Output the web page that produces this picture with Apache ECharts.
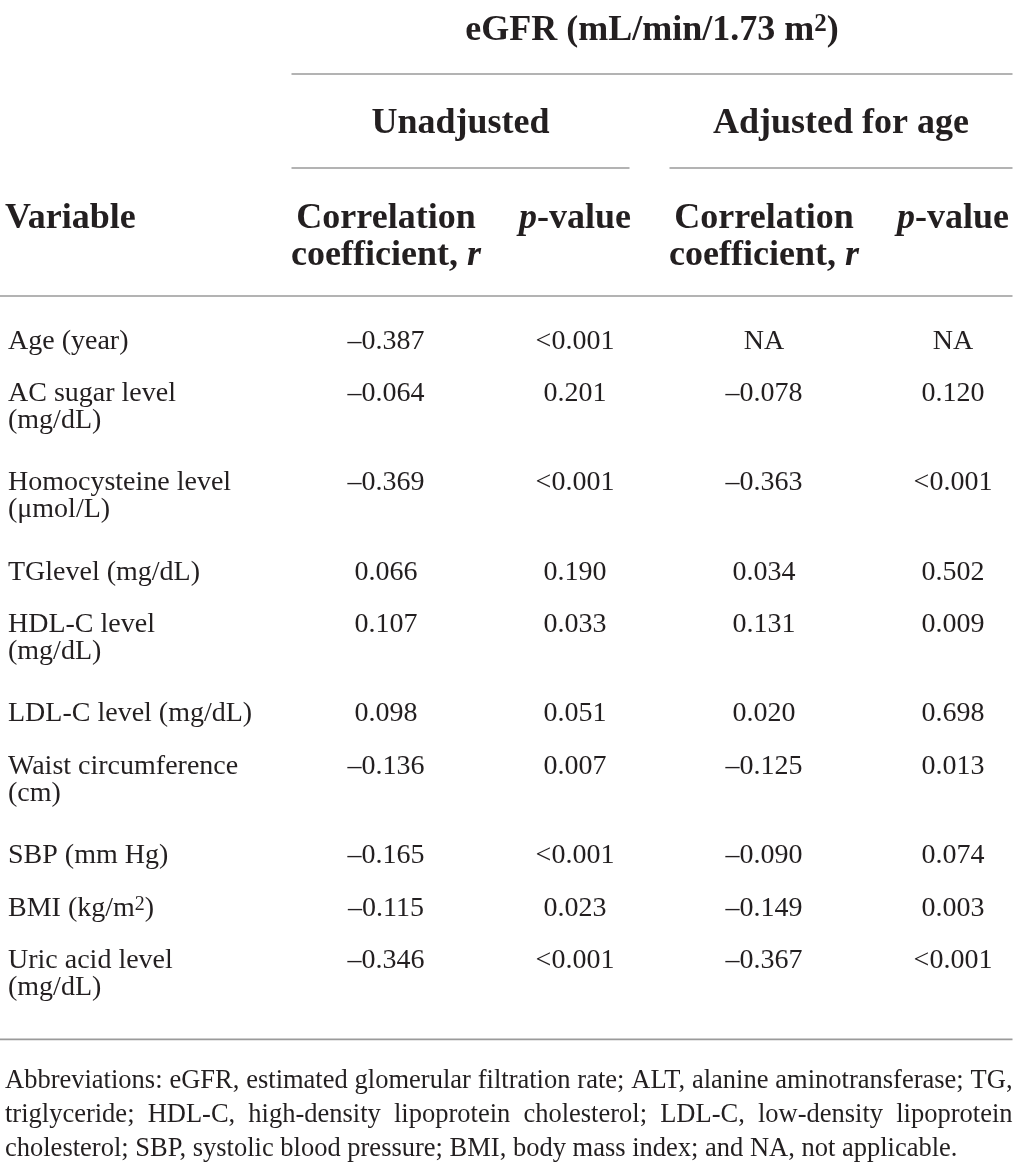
<!DOCTYPE html>
<html>
<head>
<meta charset="utf-8">
<script src="https://cdn.jsdelivr.net/npm/echarts@6/dist/echarts.min.js"></script>
<style>
html, body { margin: 0; padding: 0; background: #ffffff; }
#chart { width: 1017px; height: 1168px; }
</style>
</head>
<body>
<div id="chart"></div>
<script>
// ---------------- DATA ----------------
const titleText = 'eGFR (mL/min/1.73 m²)';
const groupHeaders = ['Unadjusted', 'Adjusted for age'];
const columnHeaders = ['Variable', 'Correlation\ncoefficient, _r_', '_p_-value', 'Correlation\ncoefficient, _r_', '_p_-value'];
const variables = [
  'Age (year)',
  'AC sugar level\n(mg/dL)',
  'Homocysteine level\n(μmol/L)',
  'TGlevel (mg/dL)',
  'HDL-C level\n(mg/dL)',
  'LDL-C level (mg/dL)',
  'Waist circumference\n(cm)',
  'SBP (mm Hg)',
  'BMI (kg/m²)',
  'Uric acid level\n(mg/dL)'
];
const unadjustedR = [-0.387, -0.064, -0.369, 0.066, 0.107, 0.098, -0.136, -0.165, -0.115, -0.346];
const unadjustedP = ['<0.001', '0.201', '<0.001', '0.190', '0.033', '0.051', '0.007', '<0.001', '0.023', '<0.001'];
const adjustedR = [null, -0.078, -0.363, 0.034, 0.131, 0.020, -0.125, -0.090, -0.149, -0.367];
const adjustedP = ['NA', '0.120', '<0.001', '0.502', '0.009', '0.698', '0.013', '0.074', '0.003', '<0.001'];
const footnoteLines = [
  'Abbreviations: eGFR, estimated glomerular filtration rate; ALT, alanine aminotransferase; TG,',
  'triglyceride; HDL-C, high-density lipoprotein cholesterol; LDL-C, low-density lipoprotein',
  'cholesterol; SBP, systolic blood pressure; BMI, body mass index; and NA, not applicable.'
];

// ---------------- STYLE / LAYOUT ----------------
const FONT = '"Liberation Serif", "DejaVu Serif", serif';
const INK = '#231f20';
const RULE_COLOR = '#9a9a9a';
const BODY_SIZE = 28, BODY_LH = 27;
const HEAD_SIZE = 36, HEAD_LH = 37;
const COL_PX = 189;                           // column pitch in px
const X_MIN = -197 / COL_PX, X_MAX = X_MIN + 1017 / COL_PX;
const Y_MIN = -6.5, Y_MAX = 15.75;           // row units, 0 = first body row
const EXTRA_LINE_UNITS = 0.7;                // extra row height per additional text line
const PX_PER_UNIT = 1168 / (Y_MAX - Y_MIN);

function fmtR(v) {
  if (v === null) return 'NA';
  return (v < 0 ? '\u2013' : '') + Math.abs(v).toFixed(3);
}
function toRich(s) {
  return s.replace(/_([^_]+)_/g, '{i|$1}').replace(/²/g, '{sup|2}');
}
function richFor(size, weight) {
  return {
    i: { fontFamily: FONT, fontSize: size, fontWeight: weight, fontStyle: 'italic', fill: INK },
    sup: { fontFamily: FONT, fontSize: Math.round(size * 0.7), fontWeight: weight, fill: INK, verticalAlign: 'top' }
  };
}

// row start positions (in row units) derived from the number of text lines
const rowStart = [];
let acc = 0;
variables.forEach(function (v) {
  rowStart.push(acc);
  acc += 1 + EXTRA_LINE_UNITS * (v.split('\n').length - 1);
});
const totalUnits = acc;

// header positions (row units)
const Y_TITLE = -5.91, Y_RULE1 = -5.09, Y_GROUP = -4.15, Y_RULE2 = -3.3, Y_COLHEAD = -2.33, Y_RULE3 = -0.86;
const Y_RULE_BOTTOM = totalUnits - 0.2;
const Y_FOOT = totalUnits + 0.6;
const FOOT_LH_UNITS = 34 / PX_PER_UNIT;

// body cells
const bodyCells = [];
const columns = [variables.map(String), unadjustedR.map(fmtR), unadjustedP, adjustedR.map(fmtR), adjustedP];
columns.forEach(function (col, c) {
  col.forEach(function (txt, r) {
    bodyCells.push({ value: [c, rowStart[r]], text: txt });
  });
});

// header cells
const headCells = columnHeaders.map(function (t, c) { return { value: [c, Y_COLHEAD], text: t }; });

// rules and spanning header texts: [fromCol, toCol, y]
const rules = [
  { value: [1, 4, Y_RULE1], kind: 'spanAll' },
  { value: [1, 2, Y_RULE2], kind: 'groupL' },
  { value: [3, 4, Y_RULE2], kind: 'groupR' },
  { value: [0, 4, Y_RULE3], kind: 'full' },
  { value: [0, 4, Y_RULE_BOTTOM], kind: 'full' }
];
const spanTexts = [
  { value: [1, 4, Y_TITLE], text: titleText, kind: 'spanAll' },
  { value: [1, 2, Y_GROUP], text: groupHeaders[0], kind: 'groupL' },
  { value: [3, 4, Y_GROUP], text: groupHeaders[1], kind: 'groupR' }
];
const footItems = footnoteLines.map(function (t, i) { return { value: [0, Y_FOOT + i * FOOT_LH_UNITS], text: t }; });

const GROUP_GAP = 40, RIGHT_INSET = 35, LEFT_PAD = 8;

function spanExtent(api, c0, c1, kind, y) {
  const bw = api.size([1, 0])[0];
  const p0 = api.coord([c0, y]);
  const p1 = api.coord([c1, y]);
  let x0, x1;
  if (kind === 'full') {
    x0 = p0[0] - bw - LEFT_PAD;
    x1 = p1[0] + bw / 2 - RIGHT_INSET;
  } else {
    x0 = p0[0] - bw / 2;
    x1 = p1[0] + bw / 2 - (kind === 'groupL' ? GROUP_GAP : RIGHT_INSET);
  }
  return [x0, x1, p0[1]];
}

// measure text for the justified footnote
const measureCtx = document.createElement('canvas').getContext('2d');
function measure(text, size) {
  measureCtx.font = size + 'px ' + FONT;
  return measureCtx.measureText(text).width;
}

const chart = echarts.init(document.getElementById('chart'), null, { renderer: 'canvas' });

const option = {
  backgroundColor: '#ffffff',
  animation: false,
  grid: { left: 0, right: 0, top: 0, bottom: 0, containLabel: false },
  xAxis: { type: 'value', min: X_MIN, max: X_MAX, show: false },
  yAxis: { type: 'value', inverse: true, min: Y_MIN, max: Y_MAX, show: false },
  series: [
    {
      type: 'custom', name: 'body', data: bodyCells, silent: true,
      renderItem: function (params, api) {
        const cell = bodyCells[params.dataIndex];
        const p = api.coord([api.value(0), api.value(1)]);
        const bw = api.size([1, 0])[0];
        const left = api.value(0) === 0;
        return {
          type: 'text',
          style: {
            x: left ? p[0] - bw : p[0], y: p[1] - BODY_LH / 2,
            text: toRich(cell.text), fontFamily: FONT, fontSize: BODY_SIZE, fontWeight: 'normal', fill: INK,
            align: left ? 'left' : 'center', verticalAlign: 'top', lineHeight: BODY_LH,
            rich: richFor(BODY_SIZE, 'normal')
          }
        };
      }
    },
    {
      type: 'custom', name: 'header', data: headCells, silent: true,
      renderItem: function (params, api) {
        const cell = headCells[params.dataIndex];
        const p = api.coord([api.value(0), api.value(1)]);
        const bw = api.size([1, 0])[0];
        const left = api.value(0) === 0;
        return {
          type: 'text',
          style: {
            x: left ? p[0] - bw - 3 : p[0], y: p[1] - HEAD_LH / 2,
            text: toRich(cell.text), fontFamily: FONT, fontSize: HEAD_SIZE, fontWeight: 'bold', fill: INK,
            align: left ? 'left' : 'center', verticalAlign: 'top', lineHeight: HEAD_LH,
            rich: richFor(HEAD_SIZE, 'bold')
          }
        };
      }
    },
    {
      type: 'custom', name: 'spanText', data: spanTexts, silent: true,
      renderItem: function (params, api) {
        const it = spanTexts[params.dataIndex];
        const e = spanExtent(api, api.value(0), api.value(1), it.kind, api.value(2));
        return {
          type: 'text',
          style: {
            x: (e[0] + e[1]) / 2, y: e[2] - HEAD_LH / 2,
            text: toRich(it.text), fontFamily: FONT, fontSize: HEAD_SIZE, fontWeight: 'bold', fill: INK,
            align: 'center', verticalAlign: 'top', lineHeight: HEAD_LH,
            rich: richFor(HEAD_SIZE, 'bold')
          }
        };
      }
    },
    {
      type: 'custom', name: 'rules', data: rules, silent: true,
      renderItem: function (params, api) {
        const it = rules[params.dataIndex];
        const e = spanExtent(api, api.value(0), api.value(1), it.kind, api.value(2));
        return {
          type: 'line',
          shape: { x1: e[0], y1: e[2], x2: e[1], y2: e[2] },
          style: { stroke: RULE_COLOR, lineWidth: 1.6 }
        };
      }
    },
    {
      type: 'custom', name: 'footnote', data: footItems, silent: true,
      renderItem: function (params, api) {
        const it = footItems[params.dataIndex];
        const e = spanExtent(api, 0, 4, 'full', api.value(1));
        const x0 = e[0] + 5, x1 = e[1];
        const target = x1 - x0;
        // font size so that the (unjustified) last line reaches its width in the reference
        const lastW100 = measure(footnoteLines[footnoteLines.length - 1], 100);
        const size = Math.min(27, 100 * (958 - x0) / lastW100);
        const words = it.text.split(' ');
        const widths = words.map(function (w) { return measure(w, size); });
        const sum = widths.reduce(function (a, b) { return a + b; }, 0);
        const isLast = params.dataIndex === footItems.length - 1;
        const gap = isLast ? measure(' ', size) : (target - sum) / (words.length - 1);
        const children = [];
        let x = x0;
        words.forEach(function (w, k) {
          children.push({
            type: 'text',
            style: {
              x: x, y: e[2], text: w, fontFamily: FONT, fontSize: size, fill: INK,
              align: 'left', verticalAlign: 'middle'
            }
          });
          x += widths[k] + gap;
        });
        return { type: 'group', children: children };
      }
    }
  ]
};
chart.setOption(option);
</script>
</body>
</html>
